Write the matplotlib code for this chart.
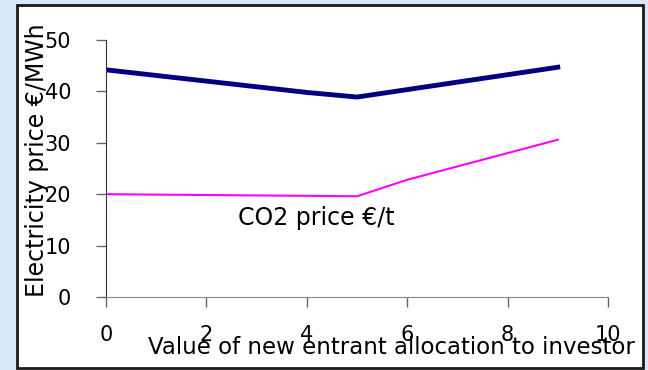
import matplotlib
matplotlib.use("Agg")
import matplotlib.pyplot as plt
from matplotlib.patches import Rectangle

# Data
elec_x = [0, 4, 5, 9]
elec_price = [44.2, 39.8, 38.9, 44.7]
co2_x = [0, 5, 6, 9]
co2_price = [20.0, 19.6, 22.8, 30.6]
x_ticks = [0, 2, 4, 6, 8, 10]
y_ticks = [0, 10, 20, 30, 40, 50]

plt.rcParams['font.family'] = ['DejaVu Sans']

W, H = 648, 370
fig = plt.figure(figsize=(W / 100, H / 100), dpi=100)
fig.patch.set_facecolor('#dce8fb')

# white framed panel
fig.patches.append(Rectangle((17 / W, 1 - 368 / H), (643 - 17) / W, (368 - 5) / H,
                             transform=fig.transFigure, facecolor='white',
                             edgecolor='#1a1a1a', linewidth=2, zorder=-10))

ax = fig.add_axes([106 / W, 1 - 297 / H, (608 - 106) / W, (297 - 40) / H])
ax.set_zorder(5)
ax.set_facecolor('none')
ax.plot(elec_x, elec_price, color='#000080', linewidth=3.5, solid_joinstyle='miter')
ax.plot(co2_x, co2_price, color='#ff00ff', linewidth=1.5)

ax.set_xlim(0, 10)
ax.set_ylim(0, 50)
ax.set_xticks(x_ticks)
ax.set_yticks(y_ticks)
ax.tick_params(axis='both', labelsize=15, length=7, width=1, color='#666666')
ax.tick_params(axis='x', direction='out', pad=13)
ax.tick_params(axis='y', direction='out', pad=18)

for s in ['top', 'right']:
    ax.spines[s].set_visible(False)
ax.spines['left'].set_color('#333333')
ax.spines['bottom'].set_color('#888888')

ax.text(2.63, 15.4, 'CO2 price €/t', fontsize=17, ha='left', va='center')

ax.set_xlabel('Value of new entrant allocation to investor', fontsize=16.5, va='center')
ax.xaxis.set_label_coords(0.568, -0.196)
ax.set_ylabel('Electricity price €/MWh', fontsize=17, va='center')
ax.yaxis.set_label_coords(-0.137, 0.533)

fig.savefig('out.png', dpi=100, facecolor=fig.get_facecolor())
